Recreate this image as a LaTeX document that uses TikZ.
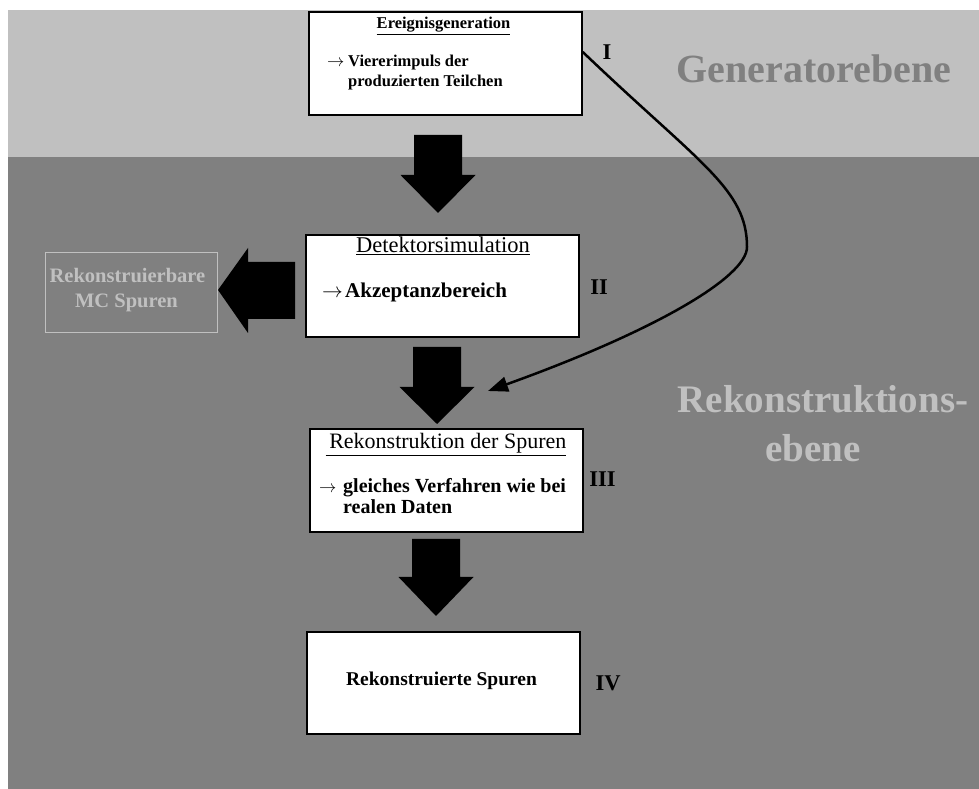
\documentclass[tikz,border=0pt]{standalone}
\usepackage{fontspec}
\setmainfont{Liberation Serif}
\usetikzlibrary{arrows.meta,calc}

\definecolor{lightband}{HTML}{C0C0C0}
\definecolor{darkband}{HTML}{808080}

\tikzset{
  stepbox/.style={draw=black, line width=1.5pt, fill=white, minimum width=273pt, minimum height=102pt, inner sep=0pt},
  boxtext/.style={inner sep=0pt, anchor=base west},
  boxhead/.style={inner sep=0pt, anchor=base},
  numeral/.style={inner sep=0pt, anchor=base, font=\fontsize{22.5}{26}\selectfont\bfseries},
  blockarrow/.style={fill=black},
}

\begin{document}
\begin{tikzpicture}[x=1pt, y=1pt]
  \useasboundingbox (0,0) rectangle (979,789);

  % Ebenen
  \fill[lightband] (8,632) rectangle (979,779);
  \fill[darkband] (8,0) rectangle (979,632);
  \node[boxhead, text=darkband, font=\fontsize{40}{46}\selectfont\bfseries] (genlevel) at (814,706) {Generatorebene};
  \node[boxhead, text=lightband, font=\fontsize{39}{46}\selectfont\bfseries] (recolevel) at (823,376) {Rekonstruktions-};
  \node[boxhead, text=lightband, font=\fontsize{39}{46}\selectfont\bfseries] (recolevelb) at (813,327) {ebene};

  % Boxen
  \node[stepbox, minimum height=103pt] (gen) at (445.5,725.5) {};
  \node[stepbox] (det) at (442.5,503) {};
  \node[stepbox, minimum height=103pt] (reco) at (446.5,308.5) {};
  \node[stepbox] (done) at (443.5,106) {};
  \node[draw=lightband, line width=0.8pt, minimum width=172pt, minimum height=80pt, inner sep=0pt] (mc) at (131,497) {};

  % Texte
  \begin{scope}[font=\fontsize{16.5}{19}\selectfont\bfseries]
    \node[boxhead] (genhead) at (443.5,760) {\underline{Ereignisgeneration}};
    \node[boxtext] (genarrow) at (327,722) {$\rightarrow$};
    \node[boxtext] (genline) at (348,722) {Viererimpuls der};
    \node[boxtext] (genlineb) at (348,702) {produzierten Teilchen};
  \end{scope}

  \node[boxhead, font=\fontsize{22.5}{27}\selectfont] (dethead) at (443,536) {\underline{Detektorsimulation}};
  \node[boxtext, font=\fontsize{21}{25}\selectfont] (detarrow) at (322,491) {$\rightarrow$};
  \node[boxtext, font=\fontsize{21}{25}\selectfont\bfseries] (detline) at (345,491) {Akzeptanzbereich};

  \node[boxhead, font=\fontsize{22}{26}\selectfont] (recohead) at (446,340) {\underline{\,Rekonstruktion der Spuren}};
  \begin{scope}[font=\fontsize{20}{24}\selectfont\bfseries]
    \node[boxtext, font=\fontsize{19}{24}\selectfont] (recoarrow) at (319,296) {$\rightarrow$};
    \node[boxtext] (recoline) at (343,296) {gleiches Verfahren wie bei};
    \node[boxtext] (recolineb) at (343,275) {realen Daten};
    \node[boxhead, font=\fontsize{19.5}{24}\selectfont\bfseries] (donetext) at (441.5,103) {Rekonstruierte Spuren};
    \node[boxhead, text=lightband, font=\fontsize{20.5}{24}\selectfont\bfseries] (mctext) at (127.5,506) {Rekonstruierbare};
    \node[boxhead, text=lightband, font=\fontsize{20.5}{24}\selectfont\bfseries] (mctextb) at (126.5,481) {MC Spuren};
  \end{scope}

  % Nummern
  \node[numeral] (numI) at (607,729) {I};
  \node[numeral] (numII) at (599,494) {II};
  \node[numeral] (numIII) at (602.5,302) {III};
  \node[numeral] (numIV) at (608,98) {IV};

  % Pfeile
  \foreach \ax/\ytop/\ymid/\ytip in {438/654/614/576, 437/442/402/365, 436/250/212/173}
    \fill[blockarrow] (\ax-24,\ytop) -- (\ax+24,\ytop) -- (\ax+24,\ymid) -- (\ax+37.5,\ymid)
      -- (\ax,\ytip) -- (\ax-37.5,\ymid) -- (\ax-24,\ymid) -- cycle;
  \fill[blockarrow] (295,527) -- (248,527) -- (248,541) -- (218,499) -- (248,456) -- (248,470) -- (295,470) -- cycle;

  \coordinate (curveend) at (488,398);
  \draw[line width=2.5pt, -{Triangle[length=20pt,width=15pt]}] ($(gen.east)+(0,11.5)$)
    .. controls (700,625) and (747,600) .. (747,542)
    .. controls (747,512) and (655,458) .. (curveend);
\end{tikzpicture}
\end{document}
